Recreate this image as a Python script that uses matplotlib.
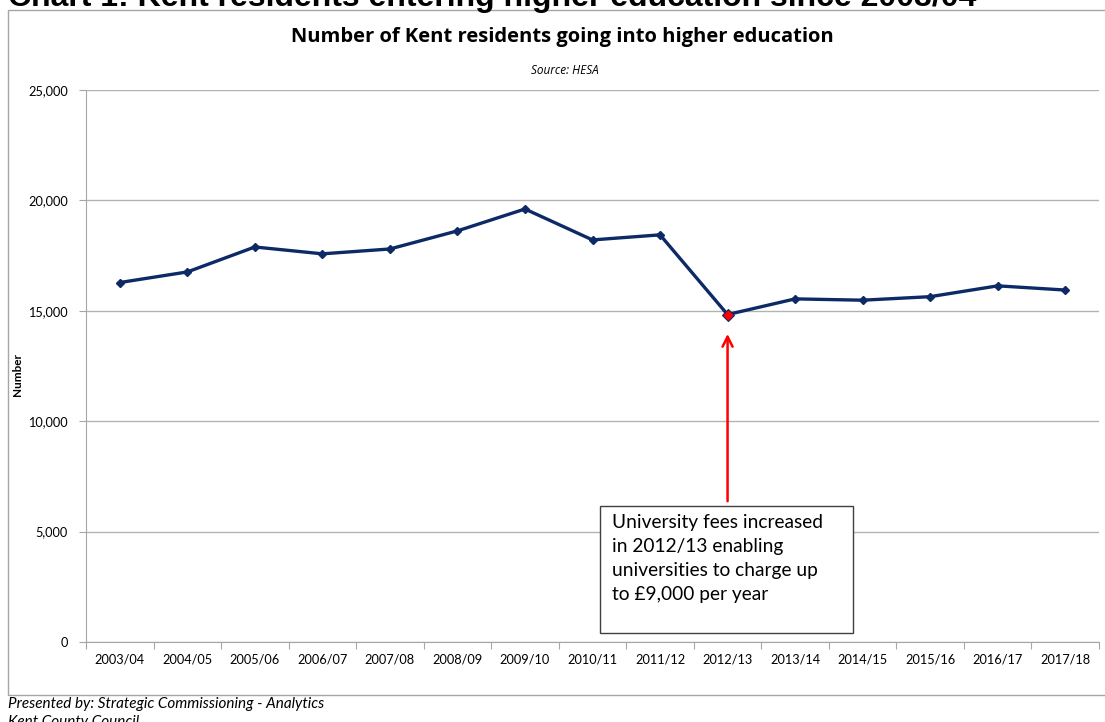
import matplotlib
matplotlib.use('Agg')
import matplotlib.pyplot as plt
from matplotlib.patches import Rectangle
from matplotlib.ticker import FuncFormatter, FixedLocator, NullFormatter

# HESA figures, Kent residents entering higher education
years = ['2003/04', '2004/05', '2005/06', '2006/07', '2007/08', '2008/09', '2009/10',
         '2010/11', '2011/12', '2012/13', '2013/14', '2014/15', '2015/16', '2016/17', '2017/18']
residents = [16280, 16760, 17890, 17580, 17800, 18620, 19610,
             18210, 18440, 14830, 15540, 15480, 15640, 16130, 15940]
fee_year = '2012/13'
y_ticks = [0, 5000, 10000, 15000, 20000, 25000]

note = ('University fees increased\n'
        'in 2012/13 enabling\n'
        'universities to charge up\n'
        'to £9,000 per year')

W, H = 1105, 722
fig = plt.figure(figsize=(W / 100, H / 100), dpi=100)
fig.patch.set_facecolor('white')

def fx(px):
    return px / W

def fy(py):
    return 1 - py / H

# outer chart frame
fig.add_artist(Rectangle((fx(8), fy(695)), fx(1120) - fx(8), fy(10) - fy(695),
                         transform=fig.transFigure, fill=False,
                         edgecolor='#a6a6a6', linewidth=1.0))

# report heading, cut by the top edge
fig.text(fx(8), fy(6), 'Chart 1: Kent residents entering higher education since 2003/04',
         fontsize=23, fontweight='bold', family='Liberation Sans',
         ha='left', va='baseline', color='black')

fig.text(fx(562), fy(37), 'Number of Kent residents going into higher education',
         fontsize=14.5, fontweight='bold', family='Open Sans', ha='center', va='center')
fig.text(fx(565), fy(71), 'Source: HESA', fontsize=8.5, style='italic',
         family='Open Sans', ha='center', va='center')

ax = fig.add_axes([fx(86), fy(642), fx(1099) - fx(86), fy(90) - fy(642)])
x = list(range(len(years)))

ax.set_xlim(-0.5, len(years) - 0.5)
ax.set_ylim(0, 25000)

ax.yaxis.set_major_locator(FixedLocator(y_ticks))
ax.yaxis.set_major_formatter(FuncFormatter(lambda v, p: '{:,.0f}'.format(v)))
ax.grid(axis='y', color='#b3b3b3', linewidth=1.0)
ax.set_axisbelow(True)

# category ticks sit between years, labels in the middle
ax.set_xticks([i - 0.5 for i in range(len(years) + 1)])
ax.xaxis.set_major_formatter(NullFormatter())
ax.set_xticks(x, minor=True)
ax.set_xticklabels(years, minor=True)
ax.tick_params(axis='x', which='minor', length=0, pad=8)
ax.tick_params(axis='x', which='major', length=5, color='#a6a6a6')
ax.tick_params(axis='y', length=5, color='#a6a6a6', pad=8)
for lab in ax.get_xticklabels(minor=True) + ax.get_yticklabels():
    lab.set_family('Lato')
    lab.set_fontsize(9.2)

for side in ['top', 'right']:
    ax.spines[side].set_visible(False)
for side in ['left', 'bottom']:
    ax.spines[side].set_color('#a6a6a6')

fig.text(fx(18), fy(375), 'Number', fontsize=8.5, fontweight='bold', family='Lato',
         rotation=90, ha='center', va='center')

ax.plot(x, residents, color='#0d2a66', linewidth=2.4, marker='D', markersize=4.5,
        zorder=3)
i = years.index(fee_year)
ax.plot(x[i], residents[i], marker='D', markersize=6, color='#ff0000',
        markeredgecolor='#0d2a66', markeredgewidth=0.8, zorder=4)

ax.annotate('', xy=(x[i], residents[i] - 750), xytext=(x[i], 6250),
            arrowprops=dict(arrowstyle='->', color='#ff0000', lw=1.8,
                            mutation_scale=18))

fig.add_artist(Rectangle((fx(600), fy(633)), fx(853) - fx(600), fy(506) - fy(633),
                         transform=fig.transFigure, facecolor='white',
                         edgecolor='#404040', linewidth=1.0, zorder=2))
fig.text(fx(612), fy(514), note, fontsize=13.8, family='Lato', ha='left', va='top',
         linespacing=1.5, zorder=3)

fig.text(fx(8), fy(704), 'Presented by: Strategic Commissioning - Analytics',
         fontsize=11, style='italic', family='Lato', ha='left', va='center')
fig.text(fx(8), fy(722), 'Kent County Council',
         fontsize=11, style='italic', family='Lato', ha='left', va='center')

fig.savefig('out.png', dpi=100, facecolor='white')
